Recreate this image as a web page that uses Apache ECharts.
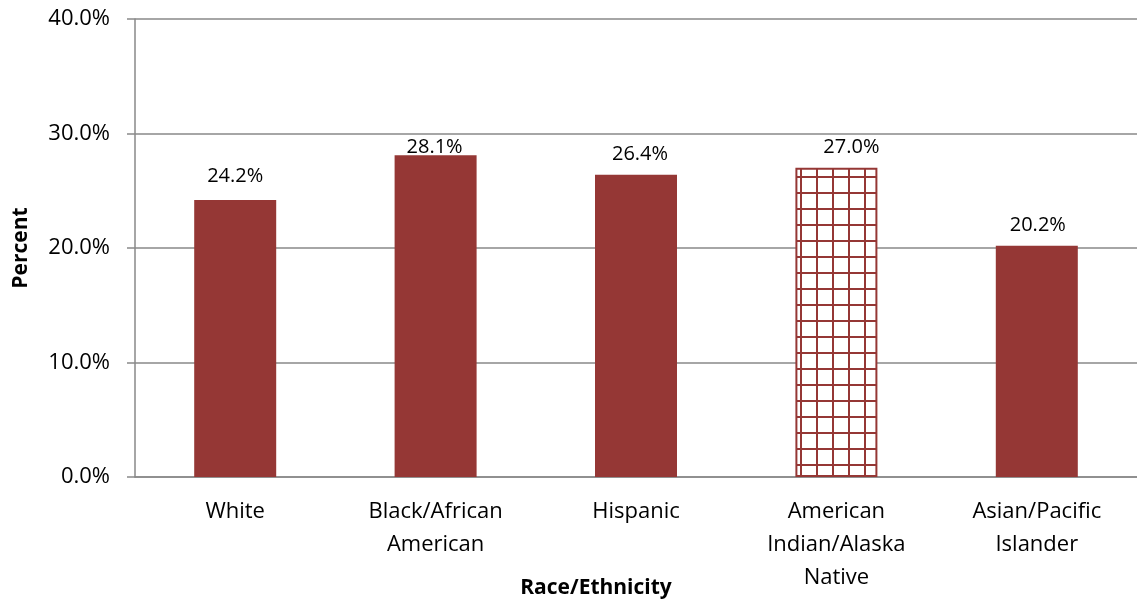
<!DOCTYPE html>
<html>
<head>
<meta charset="utf-8">
<script src="https://cdn.jsdelivr.net/npm/echarts@6/dist/echarts.min.js"></script>
<style>
  html, body { margin: 0; padding: 0; background: #fff; }
  #chart { width: 1137px; height: 603px; }
</style>
</head>
<body>
<div id="chart"></div>
<script>
// Share of each race/ethnicity group (percent)
const categories = ['White', 'Black/African\nAmerican', 'Hispanic', 'American\nIndian/Alaska\nNative', 'Asian/Pacific\nIslander'];
const values = [24.2, 28.1, 26.4, 27.0, 20.2];
const hatchedIndex = 3; // American Indian/Alaska Native drawn with a grid fill
const yTicks = [0, 10, 20, 30, 40];

// Per-bar value label nudges [dx, distance above bar]
const labelNudges = [[0, 14], [-1, -2], [4, 10], [15, 11], [1, 10]];

const barColor = '#953735';
const fontFamily = '"Open Sans", "Noto Sans", sans-serif';

// Grid-line tile used to fill the hatched bar
function makeGridTile() {
  const c = document.createElement('canvas');
  c.width = 16; c.height = 16;
  const ctx = c.getContext('2d');
  ctx.fillStyle = '#ffffff';
  ctx.fillRect(0, 0, 16, 16);
  ctx.fillStyle = barColor;
  ctx.fillRect(0, 0, 16, 2);
  ctx.fillRect(0, 0, 2, 16);
  return c;
}
const tile = makeGridTile();

const data = values.map((v, i) => {
  const item = {
    value: v,
    label: { offset: [labelNudges[i][0], 0], distance: labelNudges[i][1] }
  };
  if (i === hatchedIndex) {
    item.itemStyle = {
      color: { image: tile, repeat: 'repeat' },
      borderColor: barColor,
      borderWidth: 2
    };
  }
  return item;
});

const chart = echarts.init(document.getElementById('chart'), null, { renderer: 'canvas' });
chart.setOption({
  animation: false,
  backgroundColor: '#ffffff',
  grid: { left: 135, right: 0, top: 19, bottom: 126, containLabel: false },
  graphic: [
    {
      type: 'text',
      x: 21, y: 248,
      rotation: Math.PI / 2,
      style: {
        text: 'Percent',
        fontFamily, fontSize: 21, fontWeight: 'bold', fill: '#000',
        textAlign: 'center', textVerticalAlign: 'middle'
      }
    },
    {
      type: 'text',
      x: 596, y: 588,
      style: {
        text: 'Race/Ethnicity',
        fontFamily, fontSize: 21, fontWeight: 'bold', fill: '#000',
        textAlign: 'center', textVerticalAlign: 'middle'
      }
    }
  ],
  xAxis: {
    type: 'category',
    data: categories,
    axisLine: { lineStyle: { color: '#898989', width: 1.5 } },
    axisTick: { show: false },
    axisLabel: {
      fontFamily, fontSize: 22, color: '#000', lineHeight: 33, margin: 18, interval: 0
    }
  },
  yAxis: {
    type: 'value',
    min: yTicks[0], max: yTicks[yTicks.length - 1], interval: 10,
    axisLine: { show: true, lineStyle: { color: '#898989', width: 1.5 } },
    axisTick: { show: true, inside: false, length: 8, lineStyle: { color: '#898989', width: 1.5 } },
    splitLine: { show: true, lineStyle: { color: '#898989', width: 1.5 } },
    axisLabel: {
      fontFamily, fontSize: 22, color: '#000', margin: 25,
      formatter: v => v.toFixed(1) + '%'
    }
  },
  series: [
    {
      type: 'bar',
      data: data,
      barWidth: 82,
      itemStyle: { color: barColor },
      label: {
        show: true, position: 'top', distance: 10,
        fontFamily, fontSize: 20, color: '#000',
        formatter: p => p.value.toFixed(1) + '%'
      }
    }
  ]
});
</script>
</body>
</html>
